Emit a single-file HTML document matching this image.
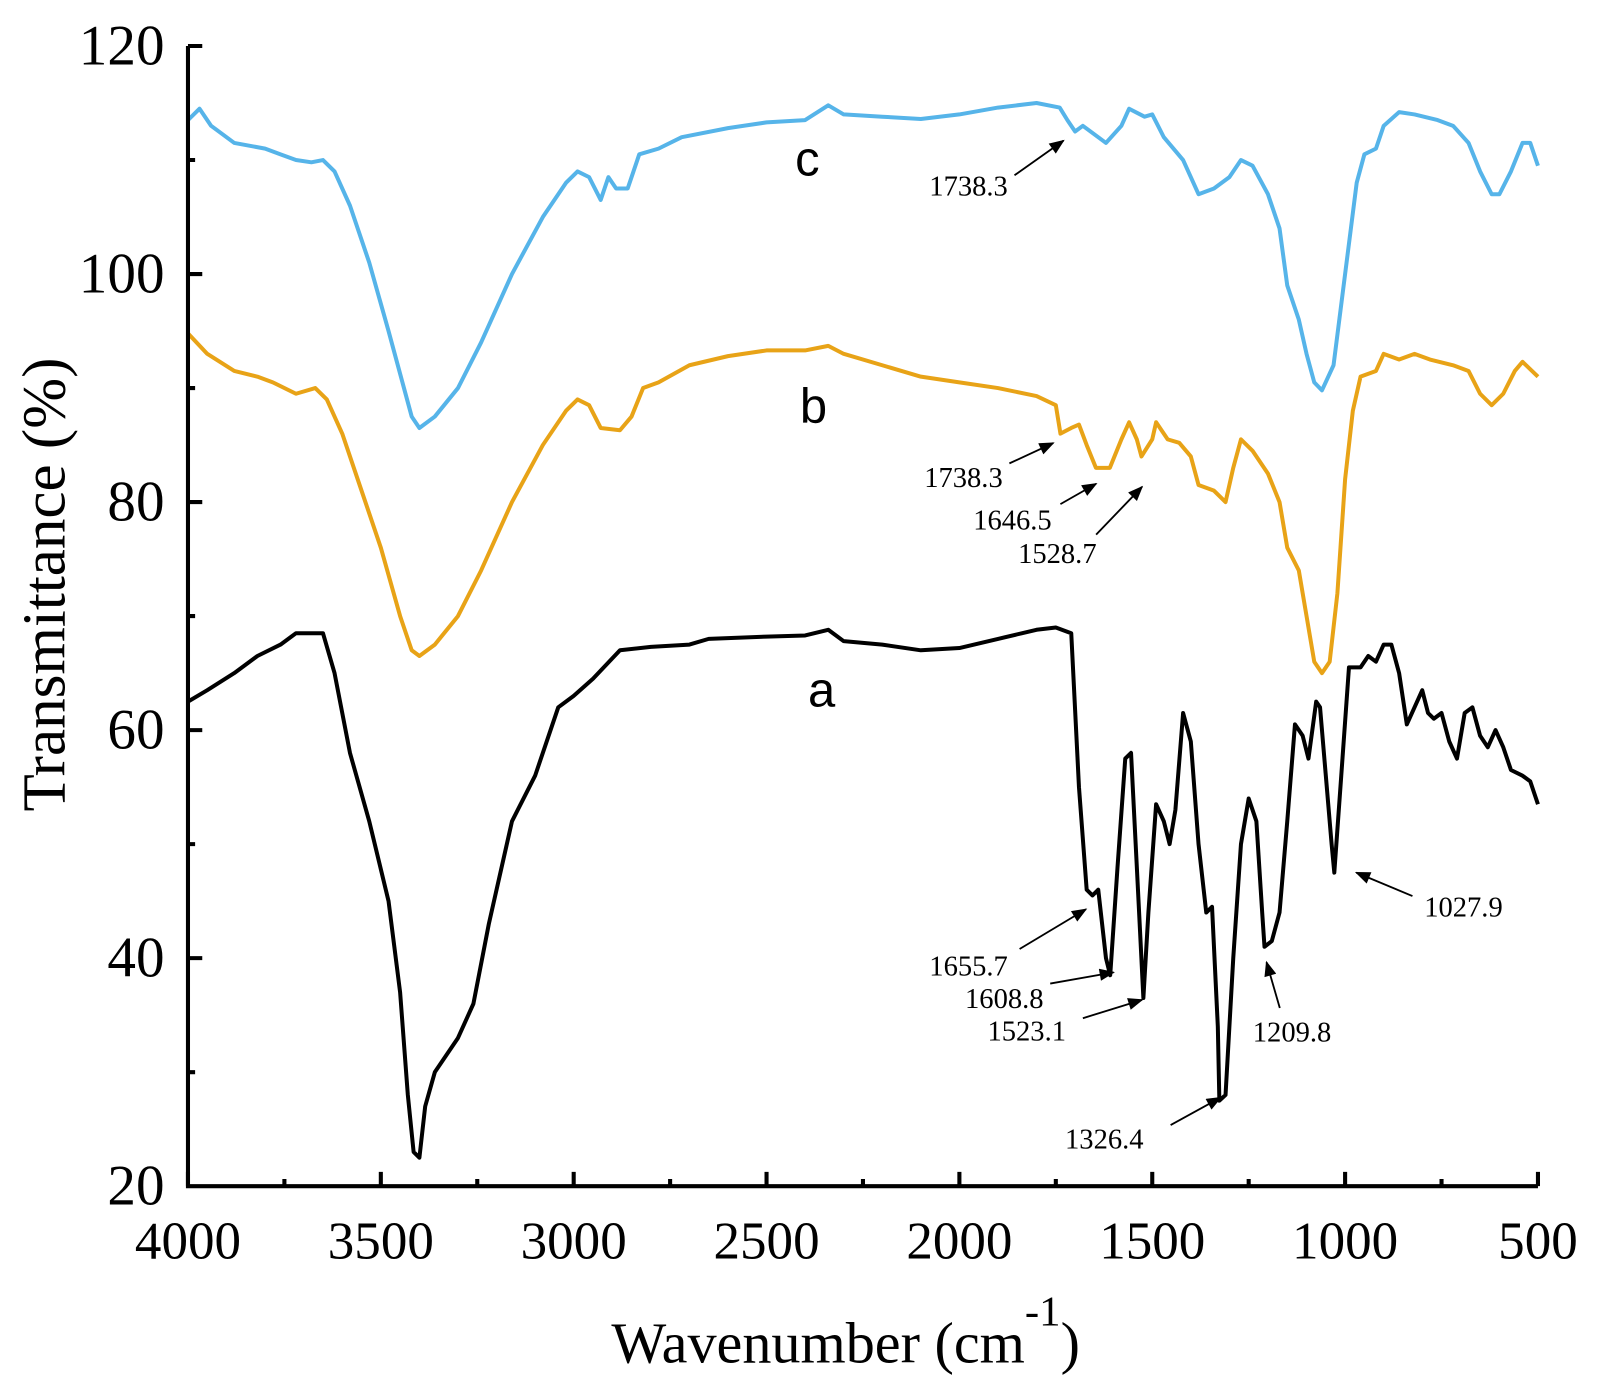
<!DOCTYPE html>
<html><head><meta charset="utf-8"><style>html,body{margin:0;padding:0;background:#fff}svg{display:block}</style></head><body>
<svg width="1601" height="1394" viewBox="0 0 1601 1394" xmlns="http://www.w3.org/2000/svg">
<g transform="translate(-0.8,0.2) scale(1.0204,1.018)">
<g fill="none" stroke-linejoin="round">
<g transform="matrix(-0.378,0,0,-11.2,1697,1389)">
<polyline vector-effect="non-scaling-stroke" stroke="#56b4e9" stroke-width="4" points="4000,113.5 3970,114.5 3940,113 3880,111.5 3800,111 3760,110.5 3720,110 3680,109.8 3650,110 3620,109 3580,106 3530,101 3480,95 3440,90 3420,87.5 3400,86.5 3360,87.5 3300,90 3240,94 3160,100 3080,105 3020,108 2990,109 2960,108.5 2930,106.5 2910,108.5 2890,107.5 2860,107.5 2830,110.5 2780,111 2720,112 2600,112.8 2500,113.3 2400,113.5 2340,114.8 2300,114 2200,113.8 2100,113.6 2000,114 1900,114.6 1800,115 1740,114.6 1720,113.5 1700,112.5 1680,113 1620,111.5 1580,113 1560,114.5 1520,113.8 1500,114 1470,112 1420,110 1380,107 1340,107.5 1300,108.5 1270,110 1240,109.5 1200,107 1170,104 1150,99 1120,96 1100,93 1080,90.5 1060,89.8 1030,92 1000,100 970,108 950,110.5 920,111 900,113 860,114.2 820,114 760,113.5 720,113 680,111.5 650,109 620,107 600,107 570,109 540,111.5 520,111.5 500,109.5"/>
<polyline vector-effect="non-scaling-stroke" stroke="#e8a317" stroke-width="4" points="4000,94.8 3950,93 3880,91.5 3820,91 3780,90.5 3720,89.5 3670,90 3640,89 3600,86 3550,81 3500,76 3450,70 3420,67 3400,66.5 3360,67.5 3300,70 3240,74 3160,80 3080,85 3020,88 2990,89 2960,88.5 2930,86.5 2880,86.3 2850,87.5 2820,90 2780,90.5 2700,92 2600,92.8 2500,93.3 2400,93.3 2340,93.7 2300,93 2200,92 2100,91 2000,90.5 1900,90 1800,89.3 1750,88.5 1738,86 1710,86.5 1690,86.8 1670,85 1646,83 1610,83 1580,85.5 1560,87 1540,85.5 1528,84 1500,85.5 1490,87 1460,85.5 1430,85.2 1400,84 1380,81.5 1340,81 1310,80 1290,83 1270,85.5 1240,84.5 1200,82.5 1170,80 1150,76 1120,74 1100,70 1080,66 1060,65 1040,66 1020,72 1000,82 980,88 960,91 920,91.5 900,93 860,92.5 820,93 780,92.5 720,92 680,91.5 650,89.5 620,88.5 590,89.5 560,91.5 540,92.3 500,91"/>
<polyline vector-effect="non-scaling-stroke" stroke="#000" stroke-width="4" points="4000,62.5 3950,63.5 3880,65 3820,66.5 3760,67.5 3720,68.5 3650,68.5 3620,65 3580,58 3530,52 3480,45 3450,37 3430,28 3415,23 3400,22.5 3385,27 3360,30 3300,33 3260,36 3220,43 3160,52 3100,56 3040,62 3000,63 2950,64.5 2880,67 2800,67.3 2700,67.5 2650,68 2500,68.2 2400,68.3 2340,68.8 2300,67.8 2200,67.5 2100,67 2000,67.2 1900,68 1800,68.8 1750,69 1710,68.5 1690,55 1670,46 1655,45.5 1640,46 1620,40 1609,38.5 1590,48 1570,57.5 1555,58 1540,48 1523,36.5 1510,44 1490,53.5 1470,52 1455,50 1440,53 1420,61.5 1400,59 1380,50 1360,44 1345,44.5 1330,34 1326,27.5 1310,28 1290,40 1270,50 1250,54 1230,52 1215,44 1209,41 1190,41.5 1170,44 1150,52 1130,60.5 1110,59.5 1095,57.5 1075,62.5 1065,62 1050,56 1035,50 1028,47.5 1010,56 990,65.5 960,65.5 940,66.5 920,66 900,67.5 880,67.5 860,65 840,60.5 820,62 800,63.5 785,61.5 770,61 750,61.5 730,59 710,57.5 690,61.5 670,62 650,59.5 630,58.5 610,60 590,58.5 570,56.5 540,56 520,55.5 500,53.5"/>
</g>
</g>
<g stroke="#000" stroke-width="4" fill="none">
<path d="M185,45 V1165 H1508"/>
<path d="M185,45 h14 M185,157 h7 M185,269 h14 M185,381 h7 M185,493 h14 M185,605 h7 M185,717 h14 M185,829 h7 M185,941 h14 M185,1053 h7"/>
<path d="M185,1165 v-14 M279.5,1165 v-7 M374,1165 v-14 M468.5,1165 v-7 M563,1165 v-14 M657.5,1165 v-7 M752,1165 v-14 M846.5,1165 v-7 M941,1165 v-14 M1035.5,1165 v-7 M1130,1165 v-14 M1224.5,1165 v-7 M1319,1165 v-14 M1413.5,1165 v-7 M1508,1165 v-14"/>
</g>
<g font-family="Liberation Serif, serif" font-size="52" fill="#000">
<g text-anchor="end" font-size="56">
<text x="162" y="63">120</text><text x="162" y="287">100</text><text x="162" y="511">80</text><text x="162" y="735">60</text><text x="162" y="959">40</text><text x="162" y="1183">20</text>
</g>
<g text-anchor="middle">
<text x="185" y="1236">4000</text><text x="374" y="1236">3500</text><text x="563" y="1236">3000</text><text x="752" y="1236">2500</text><text x="941" y="1236">2000</text><text x="1130" y="1236">1500</text><text x="1319" y="1236">1000</text><text x="1508" y="1236">500</text>
</g>
<text x="64" y="574" font-size="60" text-anchor="middle" transform="rotate(-90 64 574)">Transmittance (%)</text>
<text x="600" y="1338" font-size="57">Wavenumber (cm<tspan dy="-36" font-size="42">-1</tspan><tspan dy="36">)</tspan></text>
</g>
<g font-family="Liberation Sans, sans-serif" font-size="48" fill="#000" text-anchor="middle">
<text x="792" y="172">c</text><text x="798" y="415">b</text><text x="806" y="694">a</text>
</g>
<defs>
<marker id="ah2" viewBox="0 0 10 8" markerWidth="16" markerHeight="12" refX="9" refY="4" orient="auto" markerUnits="userSpaceOnUse"><path d="M0,0 L10,4 L0,8 z" fill="#000"/></marker></defs>
<g stroke="#000" stroke-width="1.8" marker-end="url(#ah2)">
<line x1="995" y1="172" x2="1043" y2="138"/>
<line x1="990" y1="455" x2="1033" y2="435"/>
<line x1="1040" y1="495" x2="1075" y2="475"/>
<line x1="1075" y1="525" x2="1120" y2="478"/>
<line x1="1000" y1="932" x2="1065" y2="893"/>
<line x1="1030" y1="966" x2="1092" y2="955"/>
<line x1="1062" y1="1000" x2="1120" y2="982"/>
<line x1="1255" y1="990" x2="1242" y2="945"/>
<line x1="1148" y1="1105" x2="1197" y2="1078"/>
<line x1="1385" y1="880" x2="1330" y2="857"/>
</g>
<g font-family="Liberation Serif, serif" font-size="28" fill="#000" text-anchor="middle">
<text x="950" y="192">1738.3</text>
<text x="945" y="478">1738.3</text>
<text x="993" y="520">1646.5</text>
<text x="1037" y="553">1528.7</text>
<text x="950" y="958">1655.7</text>
<text x="985" y="990">1608.8</text>
<text x="1007" y="1022">1523.1</text>
<text x="1267" y="1023">1209.8</text>
<text x="1083" y="1128">1326.4</text>
<text x="1435" y="900">1027.9</text>
</g>
</g>
</svg>
</body></html>
